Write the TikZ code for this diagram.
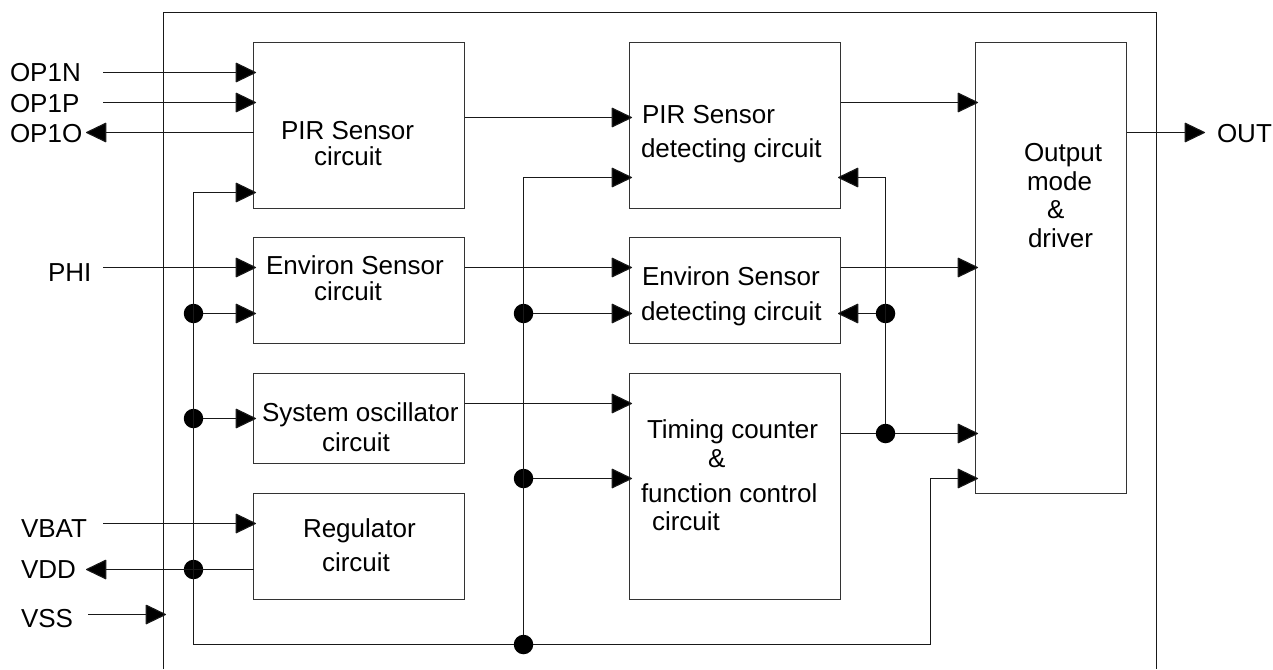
\documentclass[tikz,border=0pt]{standalone}
\usepackage{fontspec}
\setmainfont{Liberation Sans}
\usetikzlibrary{arrows.meta}
\tikzset{
  wire/.style={line width=1.1pt,draw=black!90},
  arr/.style={wire,-{Triangle[length=21pt,width=20pt,fill=black,line join=round]},shorten >=-2.5pt},
  block/.style={draw=black!80,line width=1.1pt,minimum width=211pt,outer sep=0pt,inner sep=0pt},
  txt/.style={anchor=base west,inner sep=0pt,outer sep=0pt,font=\fontsize{26}{30}\selectfont},
  junction/.style={circle,fill=black,minimum size=19.5pt,inner sep=0pt,outer sep=0pt}
}
\begin{document}
\begin{tikzpicture}[x=1pt,y=-1pt]
\useasboundingbox (0,0) rectangle (1273,669);
\fill[white] (0,0) rectangle (1273,669);
% chip outline
\coordinate (cbl) at (163.5,669);
\coordinate (ctl) at (163.5,12.5);
\coordinate (ctr) at (1156.5,12.5);
\coordinate (cbr) at (1156.5,669);
\draw[wire] (cbl) -- (ctl) -- (ctr) -- (cbr);
% blocks
\node[block,minimum height=166pt] (pir) at (359,125.5) {};
\node[block,minimum height=106pt] (env) at (359,290.5) {};
\node[block,minimum height=90pt] (osc) at (359,418.5) {};
\node[block,minimum height=106pt] (reg) at (359,546.5) {};
\node[block,minimum height=166pt] (pird) at (735,125.5) {};
\node[block,minimum height=106pt] (envd) at (735,290.5) {};
\node[block,minimum height=226pt] (tim) at (735,486.5) {};
\node[block,minimum width=151pt,minimum height=451pt] (out) at (1051,268) {};
% texts
\node[txt] (tn) at (10,81.5) {OP1N};
\node[txt] (tp) at (10,112) {OP1P};
\node[txt] (to) at (10,142) {OP1O};
\node[txt] (tphi) at (48,281.5) {PHI};
\node[txt] (tbat) at (21,537) {VBAT};
\node[txt] (tdd) at (21,578.5) {VDD};
\node[txt] (tss) at (21,627.5) {VSS};
\node[txt] (tout) at (1217,142) {OUT};
\node[txt] (l1) at (281,139) {PIR Sensor};
\node[txt] (l2) at (314,165) {circuit};
\node[txt] (l3) at (266,274) {Environ Sensor};
\node[txt] (l4) at (314,300) {circuit};
\node[txt] (l5) at (262,421) {System oscillator};
\node[txt] (l6) at (322,451) {circuit};
\node[txt] (l7) at (303,537) {Regulator};
\node[txt] (l8) at (322,571) {circuit};
\node[txt] (l9) at (642,123) {PIR Sensor};
\node[txt] (l10) at (641,157) {detecting circuit};
\node[txt] (l11) at (642,285) {Environ Sensor};
\node[txt] (l12) at (641,320) {detecting circuit};
\node[txt] (l13) at (647,438) {Timing counter};
\node[txt] (l14) at (708,467) {\&};
\node[txt] (l15) at (641,502) {function control};
\node[txt] (l16) at (652,530) {circuit};
\node[txt] (l17) at (1024,161) {Output};
\node[txt] (l18) at (1027,190) {mode};
\node[txt] (l19) at (1047,218) {\&};
\node[txt] (l20) at (1028,247) {driver};
% free ends
\coordinate (inN) at (103,72.5);
\coordinate (inP) at (103,102.5);
\coordinate (outO) at (88.5,132.5);
\coordinate (inPHI) at (103,267.5);
\coordinate (inBAT) at (103,523.5);
\coordinate (outDD) at (88.5,569.5);
\coordinate (inSS) at (88,614.5);
\coordinate (endOUT) at (1205,132.5);
\coordinate (busA) at (193.5,192.5);
\coordinate (busB) at (523.5,177.5);
\coordinate (busC) at (885.5,177.5);
\coordinate (corner) at (193.5,644.5);
\coordinate (corner2) at (930.5,644.5);
\coordinate (corner3) at (930.5,478.5);
% junctions
\node[junction] (j1) at (193.5,313.5) {};
\node[junction] (j2) at (193.5,418.5) {};
\node[junction] (j3) at (193.5,569.5) {};
\node[junction] (j4) at (523.5,313.5) {};
\node[junction] (j5) at (523.5,478.5) {};
\node[junction] (j6) at (523.5,644.5) {};
\node[junction] (j7) at (885.5,313.5) {};
\node[junction] (j8) at (885.5,433.5) {};
% left inputs
\draw[arr] (inN) -- (inN -| pir.west);
\draw[arr] (inP) -- (inP -| pir.west);
\draw[arr] (pir.west |- outO) -- (outO);
\draw[arr] (inPHI) -- (inPHI -| env.west);
\draw[arr] (inBAT) -- (inBAT -| reg.west);
\draw[arr] (reg.west |- outDD) -- (outDD);
\draw[arr] (inSS) -- (inSS -| ctl);
% left bus
\draw[arr] (corner) -- (busA) -- (busA -| pir.west);
\draw[arr] (j1) -- (j1 -| env.west);
\draw[arr] (j2) -- (j2 -| osc.west);
% bottom bus
\draw[wire] (corner) -- (j6);
\draw[arr] (j6) -- (corner2) -- (corner3) -- (corner3 -| out.west);
% middle bus
\draw[arr] (j6) -- (busB) -- (busB -| pird.west);
\draw[arr] (j4) -- (j4 -| envd.west);
\draw[arr] (j5) -- (j5 -| tim.west);
% middle links
\coordinate (m1) at (464.5,117.5);
\coordinate (m2) at (464.5,267.5);
\coordinate (m3) at (464.5,403.5);
\draw[arr] (m1) -- (m1 -| pird.west);
\draw[arr] (m2) -- (m2 -| envd.west);
\draw[arr] (m3) -- (m3 -| tim.west);
% right links
\coordinate (r1) at (840.5,102.5);
\coordinate (r2) at (840.5,267.5);
\draw[arr] (r1) -- (r1 -| out.west);
\draw[arr] (r2) -- (r2 -| out.west);
\draw[wire] (j8 -| tim.east) -- (j8);
\draw[arr] (j8) -- (j8 -| out.west);
\draw[arr] (j8) -- (busC) -- (busC -| pird.east);
\draw[arr] (j7) -- (j7 -| envd.east);
% output
\draw[arr,shorten >=0pt] (out.east |- endOUT) -- (endOUT);
\end{tikzpicture}
\end{document}
